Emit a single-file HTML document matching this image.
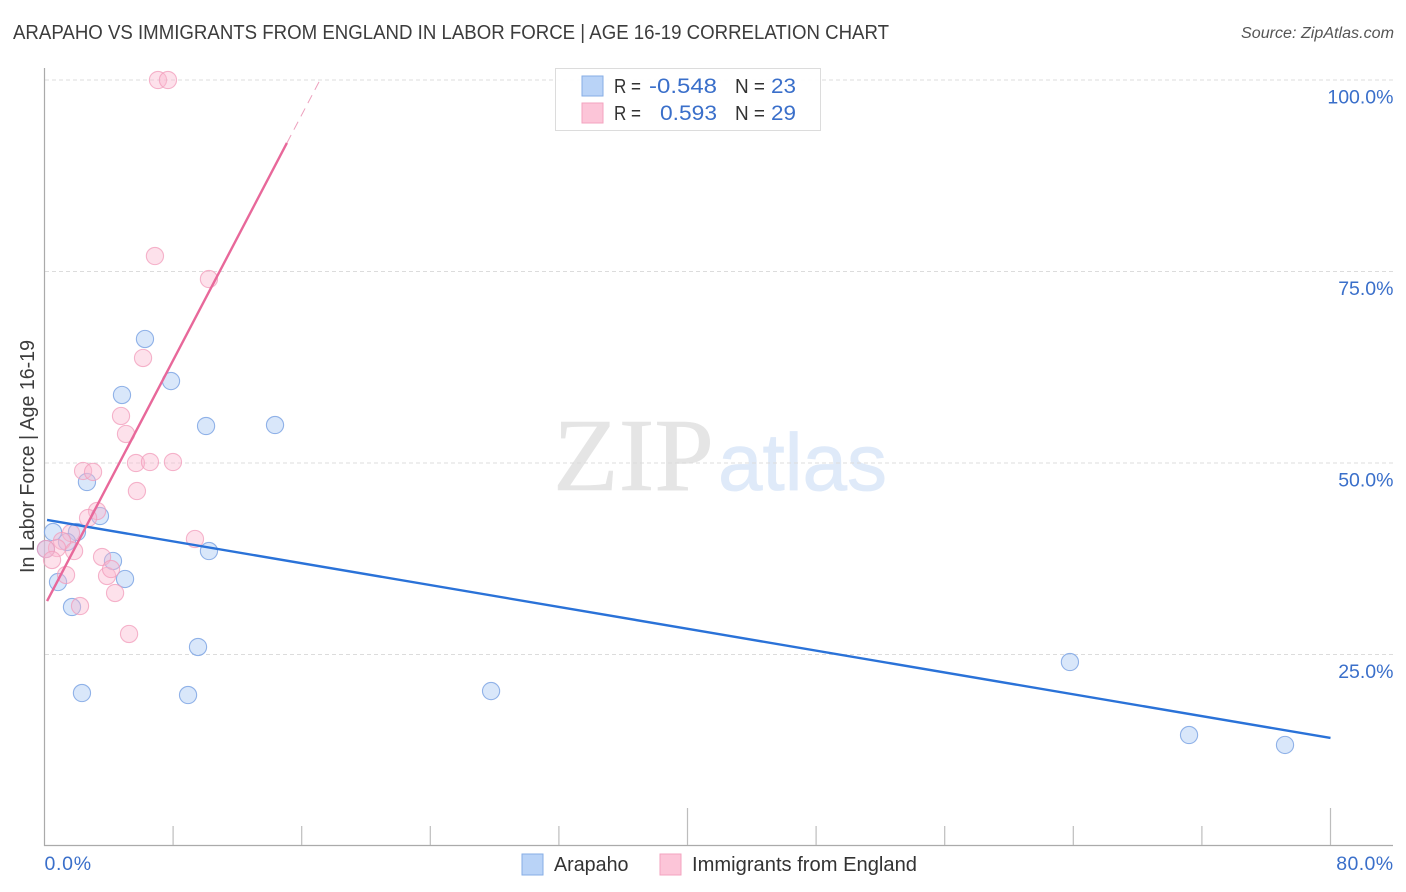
<!DOCTYPE html>
<html lang="en">
<head>
<meta charset="utf-8">
<title>Arapaho vs Immigrants from England in Labor Force | Age 16-19 Correlation Chart</title>
<style>
html,body{margin:0;padding:0;background:#fff;width:1406px;height:892px;overflow:hidden}
svg{display:block;font-family:"Liberation Sans",sans-serif}
</style>
</head>
<body>
<svg id="chart" width="1406" height="892" viewBox="0 0 1406 892" xmlns="http://www.w3.org/2000/svg">
  <text x="13" y="39" font-size="20" fill="#3c3c3c" textLength="876" lengthAdjust="spacingAndGlyphs">ARAPAHO VS IMMIGRANTS FROM ENGLAND IN LABOR FORCE | AGE 16-19 CORRELATION CHART</text>
  <text x="1394" y="38" font-size="15.5" font-style="italic" fill="#555" text-anchor="end" textLength="153" lengthAdjust="spacingAndGlyphs">Source: ZipAtlas.com</text>
  <text x="553" y="490" font-family="'Liberation Serif',serif" font-size="104" fill="#e5e5e5" stroke="#e5e5e5" stroke-width="0.6" textLength="161" lengthAdjust="spacingAndGlyphs">ZIP</text>
  <text x="718" y="490" font-size="81" fill="#dfeaf9" stroke="#dfeaf9" stroke-width="0.8" textLength="169" lengthAdjust="spacingAndGlyphs">atlas</text>
  <g id="grid"></g>
  <g id="axes"></g>
  <g id="series-arapaho"></g>
  <g id="series-england"></g>
  <g id="trends"></g>
  <g id="tick-labels"></g>
  <text transform="translate(34 456.5) rotate(-90)" font-size="20" fill="#3c3c3c" text-anchor="middle" textLength="233" lengthAdjust="spacingAndGlyphs">In Labor Force | Age 16-19</text>

  <g>
    <rect x="555.5" y="68.5" width="265" height="62" fill="#fff" fill-opacity="0.9" stroke="#dcdcdc"/>
    <rect x="582" y="76" width="21" height="20" fill="#b9d3f7" stroke="#86aee6"/>
    <rect x="582" y="103" width="21" height="20" fill="#fcc5d8" stroke="#f3a3bf"/>
    <text x="614" y="93" font-size="20" fill="#333" textLength="27" lengthAdjust="spacingAndGlyphs">R =</text>
    <text x="649" y="93" font-size="21.5" fill="#3a6fca" textLength="68" lengthAdjust="spacingAndGlyphs">-0.548</text>
    <text x="735" y="93" font-size="20" fill="#333" textLength="30" lengthAdjust="spacingAndGlyphs">N =</text>
    <text x="771" y="93" font-size="21.5" fill="#3a6fca" textLength="25" lengthAdjust="spacingAndGlyphs">23</text>
    <text x="614" y="120" font-size="20" fill="#333" textLength="27" lengthAdjust="spacingAndGlyphs">R =</text>
    <text x="660" y="120" font-size="21.5" fill="#3a6fca" textLength="57" lengthAdjust="spacingAndGlyphs">0.593</text>
    <text x="735" y="120" font-size="20" fill="#333" textLength="30" lengthAdjust="spacingAndGlyphs">N =</text>
    <text x="771" y="120" font-size="21.5" fill="#3a6fca" textLength="25" lengthAdjust="spacingAndGlyphs">29</text>
  </g>

  <g>
    <rect x="522" y="854" width="21" height="21" fill="#b9d3f7" stroke="#86aee6"/>
    <text x="554" y="871" font-size="20" fill="#333" textLength="74.5" lengthAdjust="spacingAndGlyphs">Arapaho</text>
    <rect x="660" y="854" width="21" height="21" fill="#fcc5d8" stroke="#f3a3bf"/>
    <text x="692" y="871" font-size="20" fill="#333" textLength="225" lengthAdjust="spacingAndGlyphs">Immigrants from England</text>
  </g>
</svg>
<script>
var arapahoX = [6.25,7.87,4.82,10.05,14.34,2.64,3.45,0.53,2.02,1.40,0.09,10.23,4.26,5.01,0.84,1.71,9.55,2.33,8.93,27.78,63.79,71.20,77.17];
var arapahoY = [66.19,60.70,58.88,54.83,54.96,47.52,43.08,40.99,40.99,39.69,38.77,38.51,37.21,34.86,34.46,31.20,25.98,19.97,19.71,20.23,24.02,14.49,13.19];
var englandX = [7.06,7.68,6.87,10.23,6.13,4.76,5.07,2.40,3.02,5.69,6.56,7.99,5.75,3.27,2.71,1.65,9.36,1.09,0.78,0.09,1.84,3.58,0.47,1.34,3.89,4.14,4.39,2.21,5.26];
var englandY = [100,100,77.02,74.02,63.71,56.14,53.79,48.96,48.83,50,50.13,50.13,46.34,43.73,42.82,40.86,40.08,39.82,38.90,38.77,38.51,37.73,37.34,35.38,35.25,36.16,33.03,31.33,27.68];
var arapahoTrendX = [0.16,80];
var arapahoTrendY = [42.56,14.1];
var englandTrendX = [0.16,15.08];
var englandTrendY = [31.98,91.78];
var englandDashX = [15.08,17.14];
var englandDashY = [91.78,100];
var yTicks = [25,50,75,100];
var yTickLabels = ["25.0%","50.0%","75.0%","100.0%"];
var xTicks = [0,8,16,24,32,40,48,56,64,72,80];
var xMajorTicks = [40,80];
var xEndTicks = [0,80];
var xEndLabels = ["0.0%","80.0%"];

var NS = "http://www.w3.org/2000/svg";
function sx(v){ return 44.5 + v * 16.075; }
function sy(v){ return 846 - v * 7.66; }
function make(tag, parent, attrs){
  var el = document.createElementNS(NS, tag);
  for (var k in attrs) el.setAttribute(k, attrs[k]);
  document.getElementById(parent).appendChild(el);
  return el;
}

yTicks.forEach(function(t, i){
  var g = make("line", "grid", {x1:45, x2:1393, y1:sy(t), y2:sy(t), stroke:"#dcdcdc", "stroke-width":1, "stroke-dasharray":"4 3"});
  
  
  var l = make("text", "tick-labels", {x:1393.5, y:sy(t)+23.5, "font-size":19.5, fill:"#3a6fca", "text-anchor":"end"});
  l.textContent = yTickLabels[i];
  
  
});

var yAxis = make("line", "axes", {x1:44.5, x2:44.5, y1:68, y2:846, stroke:"#aaa", "stroke-width":1.2});


var xAxis = make("line", "axes", {x1:44, x2:1393, y1:845.5, y2:845.5, stroke:"#aaa", "stroke-width":1.2});



xTicks.forEach(function(t){
  if (t === 0) return;
  var major = xMajorTicks.indexOf(t) >= 0;
  var m = make("line", "axes", {x1:sx(t), x2:sx(t), y1:major ? 808 : 826, y2:845, stroke:"#bdbdbd", "stroke-width":1.2});
  
  
});

xEndTicks.forEach(function(t, i){
  var l = make("text", "tick-labels", {x:t === 0 ? sx(t) : 1393.5, y:870, "font-size":19.5, fill:"#3a6fca", "text-anchor":t === 0 ? "start" : "end", "letter-spacing":t === 0 ? 0.7 : 0.4});
  l.textContent = xEndLabels[i];
  
  
});

arapahoX.forEach(function(v, i){
  var c = make("circle", "series-arapaho", {cx:sx(v), cy:sy(arapahoY[i]), r:8.6, fill:"#b3d0f5", "fill-opacity":0.5, stroke:"#7fa6e4", "stroke-opacity":0.85, "stroke-width":1.1});
  
  
});
englandX.forEach(function(v, i){
  var c = make("circle", "series-england", {cx:sx(v), cy:sy(englandY[i]), r:8.6, fill:"#fbb8cf", "fill-opacity":0.42, stroke:"#f29cbb", "stroke-opacity":0.75, "stroke-width":1.1});
  
  
});

var t1 = make("line", "trends", {x1:sx(arapahoTrendX[0]), y1:sy(arapahoTrendY[0]), x2:sx(arapahoTrendX[1]), y2:sy(arapahoTrendY[1]), stroke:"#2a72d8", "stroke-width":2.4});


var t2 = make("line", "trends", {x1:sx(englandTrendX[0]), y1:sy(englandTrendY[0]), x2:sx(englandTrendX[1]), y2:sy(englandTrendY[1]), stroke:"#e8689a", "stroke-width":2.4});


var t3 = make("line", "trends", {x1:sx(englandDashX[0]), y1:sy(englandDashY[0]), x2:sx(englandDashX[1]), y2:sy(englandDashY[1]), stroke:"#eda0bd", "stroke-width":1, "stroke-dasharray":"9 6"});


</script>
</body>
</html>
